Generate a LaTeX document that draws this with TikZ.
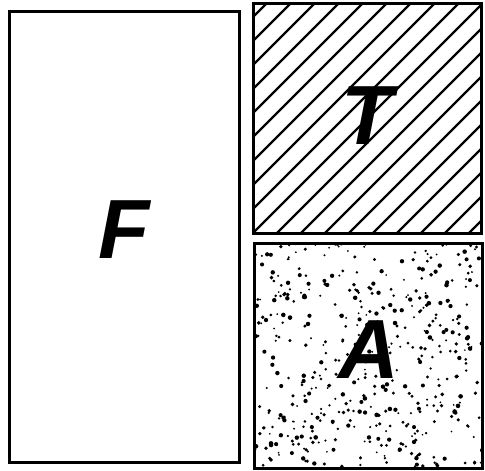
\documentclass[tikz,border=0pt]{standalone}
\usepackage{fontspec}
\setsansfont{Liberation Sans}
\usepackage{tikz}
\usetikzlibrary{positioning, calc}

\begin{document}
\begin{tikzpicture}[
    x=1pt, y=-1pt,
    panel/.style={draw, line width=3pt, inner sep=0pt},
    letter/.style={inner sep=0pt, font=\sffamily\bfseries\itshape\fontsize{84}{84}\selectfont},
    hatched/.style={path picture={
        \foreach \d in {-240,-216,...,240}
          \draw[line width=2.2pt] ($(path picture bounding box.south west)+(\d,0)$) -- +(250,-250);
      }},
    stipple/.style={path picture={
        \pgfmathsetseed{4711}
        \foreach \k in {1,...,480}{
          \pgfmathsetmacro{\px}{rnd*228}
          \pgfmathsetmacro{\py}{rnd*225}
          \pgfmathsetmacro{\pr}{0.9+rnd*1.4}
          \fill ($(path picture bounding box.north west)+(\px,\py)$) circle (\pr pt);
        }
      }}
  ]
    \useasboundingbox (0,0) rectangle (485,471);
    \node[panel, minimum width=230pt, minimum height=451pt] (front) at (124,236.5) {};
    \node[panel, hatched, minimum width=228pt, minimum height=230pt] (top) at (367,118) {};
    \node[panel, stipple, minimum width=228pt, minimum height=225pt] (area) at (368.5,355.5) {};
    \node[letter] (lf) at ([yshift=7pt]front.center) {F};
    \node[letter] (lt) at ([yshift=2pt]top.center) {T};
    \node[letter] (la) at ([yshift=6pt]area.center) {A};
\end{tikzpicture}
\end{document}
